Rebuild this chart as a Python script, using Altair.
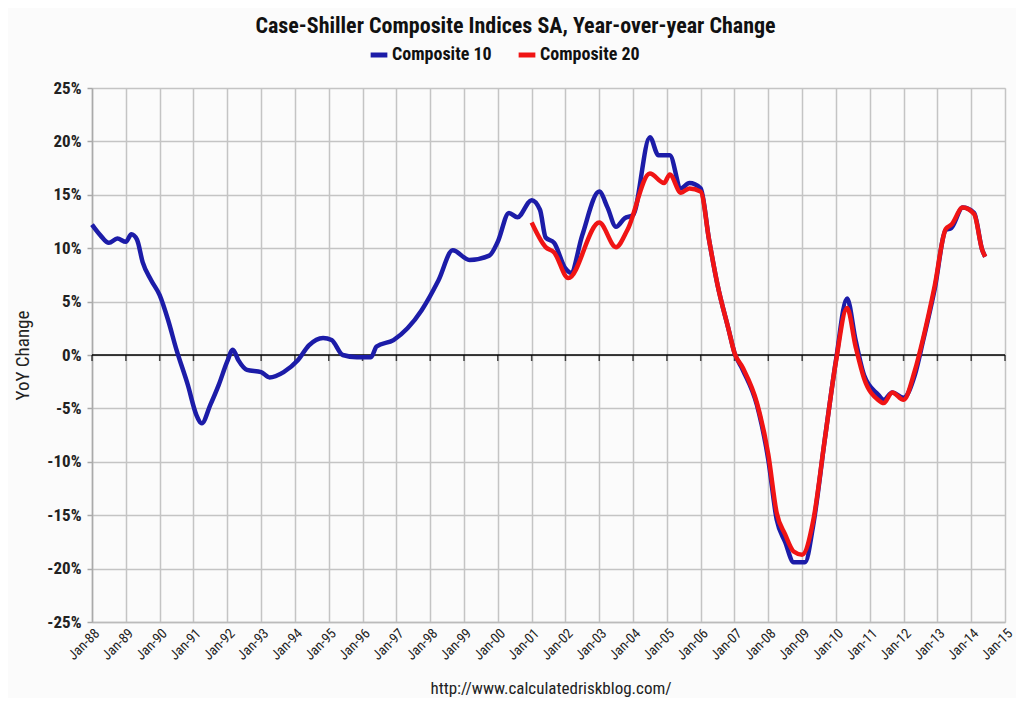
import altair as alt
import pandas as pd

# ---- data ----
c10_dates = ["1988-01", "1988-04", "1988-07", "1988-10", "1989-01", "1989-03", "1989-05", "1989-07",
             "1989-10", "1990-01", "1990-04", "1990-07", "1990-11", "1991-02", "1991-04", "1991-07",
             "1991-10", "1992-01", "1992-03", "1992-05", "1992-08", "1993-01", "1993-04", "1993-09",
             "1994-02", "1994-06", "1994-11", "1995-02", "1995-06", "1995-11", "1996-04", "1996-06",
             "1996-12", "1997-05", "1997-10", "1998-04", "1998-09", "1999-03", "1999-10", "2000-01",
             "2000-05", "2000-08", "2001-01", "2001-04", "2001-06", "2001-09", "2002-01", "2002-03",
             "2002-07", "2003-01", "2003-04", "2003-07", "2003-10", "2004-01", "2004-07", "2004-10",
             "2005-02", "2005-06", "2005-09", "2006-01", "2006-04", "2006-07", "2006-11", "2007-01",
             "2007-04", "2007-09", "2008-01", "2008-04", "2008-07", "2008-10", "2009-02", "2009-05",
             "2009-09", "2010-01", "2010-05", "2010-08", "2010-11", "2011-04", "2011-06", "2011-09",
             "2012-01", "2012-05", "2012-08", "2012-12", "2013-04", "2013-06", "2013-10", "2014-02",
             "2014-05", "2014-06"]
c10_values = [12.2, 11.2, 10.5, 10.9, 10.6, 11.3, 10.8, 8.7,
              7.0, 5.6, 3.3, 0.5, -2.8, -5.6, -6.4, -4.7,
              -2.8, -0.6, 0.5, -0.5, -1.4, -1.6, -2.1, -1.6,
              -0.5, 0.9, 1.6, 1.4, 0.0, -0.2, -0.2, 0.8,
              1.4, 2.5, 4.2, 7.0, 9.8, 8.9, 9.3, 10.6,
              13.3, 12.9, 14.5, 13.6, 11.0, 10.5, 8.1, 7.7,
              11.2, 15.3, 13.8, 12.0, 12.8, 13.1, 20.4, 18.7,
              18.7, 15.6, 16.1, 15.6, 10.8, 6.6, 2.3, 0.2,
              -1.4, -4.7, -9.8, -15.4, -17.5, -19.4, -19.4, -15.9,
              -8.0, -0.5, 5.3, 1.4, -1.9, -3.7, -4.2, -3.5,
              -4.0, -1.9, 1.4, 6.1, 11.7, 11.9, 13.8, 13.3,
              9.8, 9.2]

c20_dates = ["2001-01", "2001-06", "2001-09", "2002-02", "2003-01", "2003-07", "2003-11", "2004-07",
             "2004-12", "2005-02", "2005-06", "2005-09", "2006-01", "2006-04", "2006-07", "2006-11",
             "2007-01", "2007-04", "2007-09", "2008-01", "2008-04", "2008-07", "2008-10", "2009-01",
             "2009-05", "2009-09", "2010-01", "2010-05", "2010-08", "2010-11", "2011-04", "2011-06",
             "2011-09", "2012-01", "2012-05", "2012-08", "2012-12", "2013-04", "2013-06", "2013-10",
             "2014-02", "2014-05", "2014-06"]
c20_values = [12.4, 10.1, 9.6, 7.2, 12.4, 10.1, 11.7, 17.0,
              16.1, 16.9, 15.2, 15.6, 15.3, 10.8, 6.6, 2.3,
              0.2, -1.2, -4.5, -9.3, -14.8, -16.8, -18.4, -18.7,
              -15.5, -8.0, -0.6, 4.4, 0.8, -2.2, -4.2, -4.5,
              -3.5, -4.2, -1.5, 1.6, 6.4, 11.8, 12.2, 13.8,
              13.2, 9.8, 9.2]

series_names = ["Composite 10", "Composite 20"]
series_colors = ["#1c1ca8", "#f01414"]
tick_years = list(range(1988, 2016))
y_ticks = [-25, -20, -15, -10, -5, 0, 5, 10, 15, 20, 25]
source_text = "http://www.calculatedriskblog.com/"

FONT = "Liberation Sans Narrow, Roboto Condensed, Liberation Sans, sans-serif"

df = pd.concat([
    pd.DataFrame({"date": [d + "-01" for d in c10_dates], "value": c10_values, "series": series_names[0]}),
    pd.DataFrame({"date": [d + "-01" for d in c20_dates], "value": c20_values, "series": series_names[1]}),
])
ticks_df = pd.DataFrame({"date": [f"{y}-01-01" for y in tick_years], "value": 0})
year_values = [alt.DateTime(year=y, month=1, date=1) for y in tick_years]

x_scale = alt.Scale(domain=[alt.DateTime(year=1988, month=1, date=1),
                            alt.DateTime(year=2015, month=1, date=1)])
y_scale = alt.Scale(domain=[-25, 25], nice=False)

x_axis = alt.Axis(values=year_values, format="%b-%y",
                  labelAngle=315, labelAlign="right", labelBaseline="top",
                  labelFont=FONT, labelFontSize=14,
                  labelColor="#222", labelPadding=4, labelOverlap=False,
                  labelBound=False, labelFlush=False,
                  ticks=False, domainColor="#bbbbbb", domainWidth=1.5,
                  grid=True, gridColor="#c4c4c4", gridWidth=1.5)
x_enc = alt.X("date:T", scale=x_scale, title=None, axis=x_axis)
y_enc = alt.Y("value:Q", scale=y_scale, title="YoY Change",
              axis=alt.Axis(values=y_ticks, labelExpr="datum.value + '%'",
                            labelFont=FONT, labelFontSize=17, labelFontWeight="bold",
                            labelColor="#222", labelPadding=6,
                            tickColor="#aaaaaa", tickSize=5, tickWidth=1.5,
                            domainColor="#aaaaaa", domainWidth=1.5,
                            grid=True, gridColor="#c4c4c4", gridWidth=1.5,
                            titleFont=FONT, titleFontSize=19, titleFontWeight="normal",
                            titleColor="#222", titlePadding=14))

lines = alt.Chart(df).mark_line(strokeWidth=4.5, interpolate="monotone").encode(
    x=x_enc, y=y_enc,
    color=alt.Color("series:N",
                    scale=alt.Scale(domain=series_names, range=series_colors),
                    legend=alt.Legend(title=None, orient="none", direction="horizontal",
                                      legendX=276, legendY=-44,
                                      symbolType="stroke", symbolStrokeWidth=5, symbolSize=280,
                                      labelFont=FONT, labelFontSize=18, labelFontWeight="bold",
                                      labelColor="#111", columnPadding=16, labelOffset=2)),
    order=alt.Order("series:N", sort="ascending"),
)

zero_ticks = alt.Chart(ticks_df).mark_tick(color="black", orient="vertical", size=6,
                                           thickness=1.5, yOffset=3).encode(
    x=x_enc, y=alt.Y("value:Q", scale=y_scale)
)
zero_rule = alt.Chart(pd.DataFrame({"value": [0]})).mark_rule(color="black", strokeWidth=1.6).encode(
    y=alt.Y("value:Q", scale=y_scale)
)

source = alt.Chart(pd.DataFrame({"label": [source_text]})).mark_text(
    font=FONT, fontSize=17, color="#222", fontWeight="normal").encode(
    x=alt.value(459), y=alt.value(601), text="label:N"
)

chart = alt.layer(zero_ticks, zero_rule, lines, source).properties(
    width=913, height=534,
    autosize=alt.AutoSizeParams(type="none"),
    padding={"left": 84, "top": 80, "right": 11, "bottom": 76},
    title=alt.TitleParams("Case-Shiller Composite Indices SA, Year-over-year Change",
                          font=FONT, fontSize=22, fontWeight="bold", color="#111",
                          anchor="middle", dx=-33, offset=6),
).configure_view(stroke=None).configure(background="#fbfbfb")

chart.save("out.html", embed_options={"renderer": "svg", "actions": False})
